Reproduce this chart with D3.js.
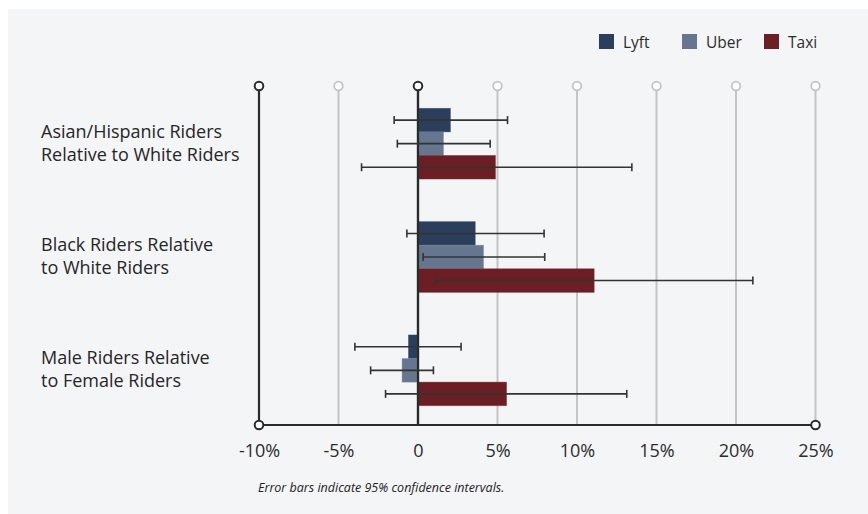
<!DOCTYPE html>
<html><head><meta charset="utf-8">
<script src="https://cdn.jsdelivr.net/npm/d3@7"></script>
<style>
body{margin:0;background:#fff;}
svg text{font-family:"Open Sans",sans-serif;}
</style></head>
<body><svg id="c" width="868" height="514"></svg>
<script>
const groups = [["Asian/Hispanic Riders","Relative to White Riders"],["Black Riders Relative","to White Riders"],["Male Riders Relative","to Female Riders"]];
const groupKeys = ["asian","black","male"];
const series = ["Lyft","Uber","Taxi"];
const colors = ["#2b3f5c","#66768f","#6b1f24"];
const lyftVals = [2.04, 3.6, -0.6];
const uberVals = [1.6, 4.12, -1.0];
const taxiVals = [4.87, 11.08, 5.57];
const lyftLo = [-1.5, -0.7, -3.97];
const lyftHi = [5.63, 7.93, 2.71];
const uberLo = [-1.3, 0.32, -2.98];
const uberHi = [4.54, 7.97, 0.97];
const taxiLo = [-3.55, 1.09, -2.04];
const taxiHi = [13.45, 21.06, 13.13];
const ticks = [-10,-5,0,5,10,15,20,25];
const tickLabels = ["-10%","-5%","0","5%","10%","15%","20%","25%"];
const footnote = "Error bars indicate 95% confidence intervals.";

(function(){
const vals = [lyftVals, uberVals, taxiVals];
const los = [lyftLo, uberLo, taxiLo];
const his = [lyftHi, uberHi, taxiHi];

const svg = d3.select("#c");
svg.append("rect").attr("x",8).attr("y",9).attr("width",860).attr("height",505).attr("fill","#f4f5f7");

const x = d3.scaleLinear().domain([-10,25]).range([259,815.5]);
const p = 0.376;
const y = d3.scaleBand().domain(groupKeys).range([87,427]).paddingInner(p).paddingOuter(p/2);
const ys = d3.scaleBand().domain(series).range([0,y.bandwidth()]);
const yTop = 86, yBot = 425;

const grid = svg.append("g");
ticks.forEach(t => {
  const dark = (t === -10 || t === 0);
  const col = dark ? "#2a2a2a" : "#c4c4c4";
  grid.append("line").attr("x1",x(t)).attr("x2",x(t)).attr("y1",yTop+4.5).attr("y2",yBot)
    .attr("stroke",col).attr("stroke-width",dark?2.2:2);
  grid.append("circle").attr("cx",x(t)).attr("cy",yTop).attr("r",4.3)
    .attr("fill","#fff").attr("stroke",col).attr("stroke-width",dark?2:1.8);
});

series.forEach((s,si) => {
  svg.append("g").selectAll("rect").data(groupKeys).join("rect")
    .attr("x",(g,i)=>x(Math.min(0,vals[si][i])))
    .attr("width",(g,i)=>Math.abs(x(vals[si][i])-x(0)))
    .attr("y",g=>y(g)+ys(s))
    .attr("height",ys.bandwidth())
    .attr("fill",colors[si])
    .attr("stroke",d3.color(colors[si]).brighter(0.4)).attr("stroke-opacity",0.5).attr("stroke-width",0.8);
});

svg.append("line").attr("x1",x(0)).attr("x2",x(0)).attr("y1",yTop+4.5).attr("y2",yBot)
  .attr("stroke","#2a2a2a").attr("stroke-width",2.2);

series.forEach((s,si) => {
  const g = svg.append("g").attr("stroke","#333").attr("stroke-width",1.6);
  groupKeys.forEach((k,i) => {
    const cy = y(k)+ys(s)+ys.bandwidth()/2;
    g.append("line").attr("x1",x(los[si][i])).attr("x2",x(his[si][i])).attr("y1",cy).attr("y2",cy);
    [los[si][i],his[si][i]].forEach(v=>{
      g.append("line").attr("x1",x(v)).attr("x2",x(v)).attr("y1",cy-4).attr("y2",cy+4);
    });
  });
});

svg.append("line").attr("x1",x(-10)+4.5).attr("x2",x(25)-4.5).attr("y1",yBot).attr("y2",yBot)
  .attr("stroke","#2a2a2a").attr("stroke-width",2.2);
[-10,25].forEach(t=>{
  svg.append("circle").attr("cx",x(t)).attr("cy",yBot).attr("r",4.3)
    .attr("fill","#fff").attr("stroke","#2a2a2a").attr("stroke-width",2);
});
const xAxis = d3.axisBottom(x).tickValues(ticks).tickFormat((d,i)=>tickLabels[i]).tickSize(0).tickPadding(0);
const ax = svg.append("g").attr("transform",`translate(0,${yBot})`).call(xAxis);
ax.select(".domain").remove();
ax.selectAll("text").attr("y",31.5).attr("dy",0).attr("font-size",18).attr("fill","#2b2b2b")
  .style("font-family","'Open Sans',sans-serif");

groupKeys.forEach((k,i)=>{
  const cy = y(k)+y.bandwidth()/2;
  const t = svg.append("text").attr("x",41).attr("font-size",18).attr("fill","#262626");
  t.append("tspan").attr("x",41).attr("y",cy-6).text(groups[i][0]);
  t.append("tspan").attr("x",41).attr("y",cy+17).text(groups[i][1]);
});

const legX = [599,682,764];
series.forEach((s,si)=>{
  svg.append("rect").attr("x",legX[si]).attr("y",34).attr("width",15).attr("height",15).attr("fill",colors[si]);
  svg.append("text").attr("x",legX[si]+24).attr("y",47.5).attr("font-size",15.5).attr("fill","#2b2b2b").text(s);
});

svg.append("text").attr("x",258).attr("y",492).attr("font-size",12.5).attr("font-style","italic")
  .attr("fill","#222").text(footnote);
})();
</script></body></html>
